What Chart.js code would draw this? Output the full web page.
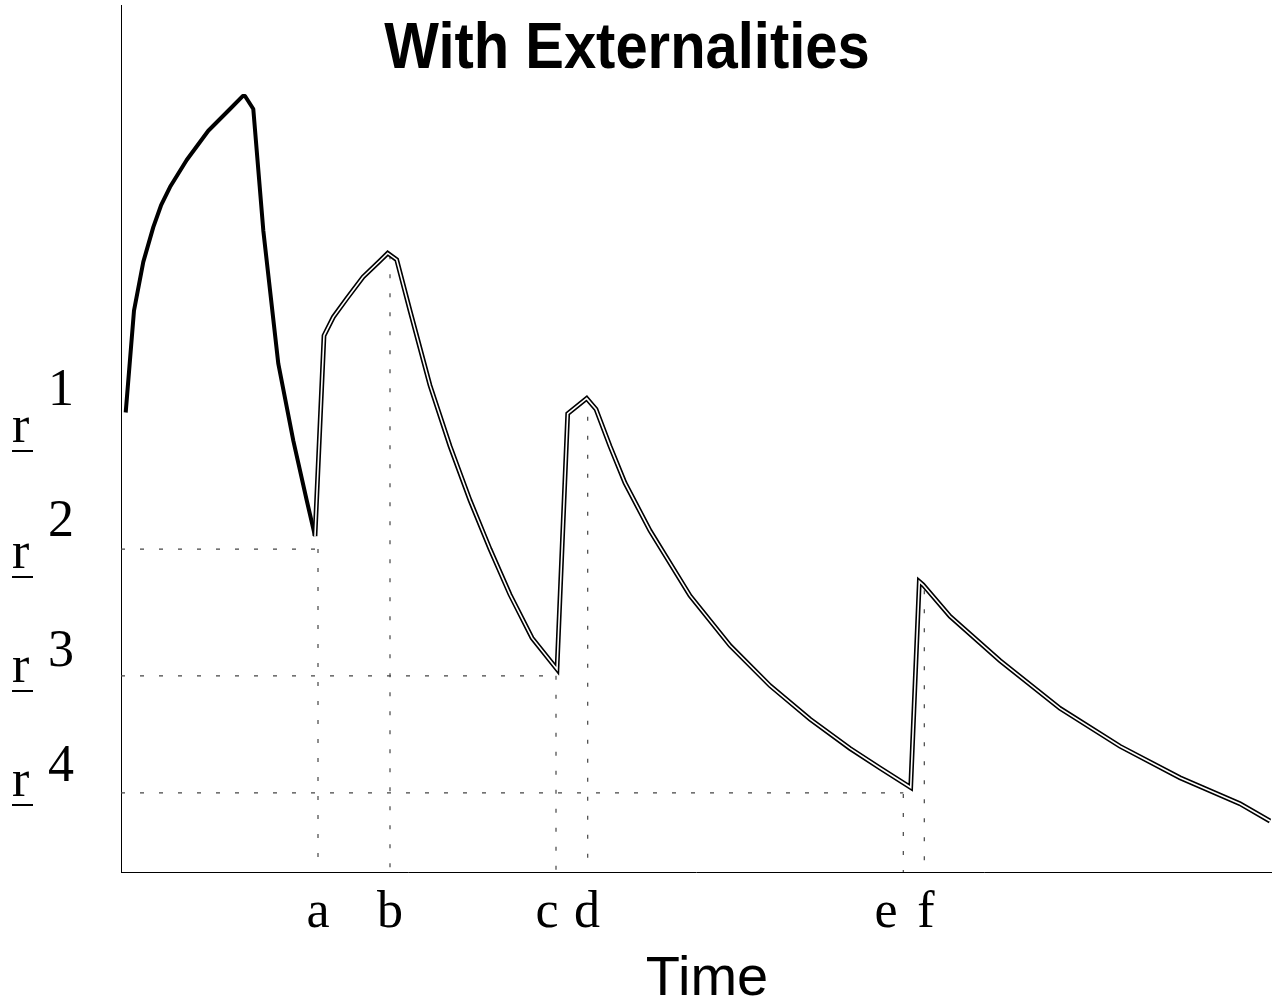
<!DOCTYPE html>
<html>
<head>
<meta charset="utf-8">
<script src="https://cdn.jsdelivr.net/npm/chart.js@4.4.1/dist/chart.umd.min.js"></script>
<style>
html,body{margin:0;padding:0;background:#fff;}
#wrap{width:1275px;height:1004px;}
</style>
</head>
<body>
<div id="wrap"><canvas id="c" width="1275" height="1004"></canvas></div>
<script>
// ---- text ----
const titleText = 'With Externalities';
const xAxisTitle = 'Time';
const tickLabels = ['a', 'b', 'c', 'd', 'e', 'f'];
const tickLabelValues = [197, 269, 426, 466, 765, 805];
const levelNames = ['1', '2', '3', '4'];

// ---- unregulated path (solid black) ----
const freeX = [4.7, 13, 22.3, 32.3, 40, 49, 65.7, 87.3, 109, 121.7, 124, 132.3, 142.3, 157.3, 172.3, 185.7, 194];
const freeY = [4.24, 5.18, 5.63, 5.95, 6.15, 6.32, 6.57, 6.84, 7.04, 7.16, 7.16, 7.04, 5.92, 4.69, 3.98, 3.43, 3.10];

// ---- regulated path (double line) ----
const regX = [194, 203, 212.3, 225.7, 242, 259, 266.7, 275.7, 289, 309, 329, 349, 369, 389, 411, 436,
              446.7, 465.7, 475, 489, 504, 529, 569, 609, 649, 689, 729, 759, 789.7,
              798.3, 802, 829, 879, 939, 999, 1059, 1119, 1149];
const regY = [3.10, 4.95, 5.12, 5.29, 5.49, 5.64, 5.71, 5.65, 5.18, 4.49, 3.93, 3.43, 2.98, 2.56, 2.16, 1.87,
              4.23, 4.37, 4.27, 3.93, 3.59, 3.15, 2.55, 2.09, 1.72, 1.41, 1.14, 0.96, 0.78,
              2.68, 2.65, 2.36, 1.95, 1.51, 1.16, 0.87, 0.63, 0.47];

// ---- dotted guide lines ----
const markerX = [197, 269, 435, 466.7, 782.3, 803.3];   // a b c d e f
const markerTop = [2.98, 5.69, 1.81, 4.2, 0.72, 2.6];
const levelY = [2.98, 1.81, 0.73];                    // r2 r3 r4
const levelEndX = [197, 435, 782.3];

const pts = (xs, ys) => xs.map((x, i) => ({x: x, y: ys[i]}));

const guideSets = [];
markerX.forEach((x, i) => {
  guideSets.push({data: [{x: x, y: markerTop[i]}, {x: x, y: 0}]});
});
levelY.forEach((y, i) => {
  guideSets.push({data: [{x: 0, y: y}, {x: levelEndX[i], y: y}]});
});
guideSets.forEach(d => Object.assign(d, {
  borderColor: '#444', borderWidth: 1.2, borderDash: [4, 15], pointRadius: 0,
  showLine: true, fill: false, order: 10
}));

const datasets = [
  {data: pts(regX, regY), borderColor: '#ffffff', borderWidth: 1.6, pointRadius: 0, showLine: true, order: 0, borderJoinStyle: 'miter'},
  {data: pts(regX, regY), borderColor: '#000000', borderWidth: 4.8, pointRadius: 0, showLine: true, order: 1, borderJoinStyle: 'miter'},
  {data: pts(freeX, freeY), borderColor: '#000000', borderWidth: 4, pointRadius: 0, showLine: true, order: 2, borderJoinStyle: 'round'},
  ...guideSets
];

const textPlugin = {
  id: 'textPlugin',
  afterDraw(chart) {
    const ctx = chart.ctx;
    ctx.save();
    ctx.fillStyle = '#000';
    // title
    ctx.save();
    ctx.font = 'bold 64px "Liberation Sans", Arial, sans-serif';
    ctx.textAlign = 'center';
    ctx.textBaseline = 'alphabetic';
    ctx.translate(627, 68);
    ctx.scale(0.905, 1);
    ctx.fillText(titleText, 0, 0);
    ctx.restore();
    // axis title
    ctx.font = '56px "Liberation Sans", Arial, sans-serif';
    ctx.textAlign = 'center';
    ctx.textBaseline = 'alphabetic';
    ctx.fillText(xAxisTitle, 707, 995);
    // level labels r with underline and superscript
    const rBase = [442, 568, 682, 796];
    const supBase = [405, 536, 666, 781];
    ctx.font = '52px "Liberation Serif", "Times New Roman", serif';
    ctx.textAlign = 'left';
    levelNames.forEach((n, i) => {
      ctx.fillText('r', 12, rBase[i]);
      ctx.fillRect(12, rBase[i] + 8, 21, 2);
      ctx.fillText(n, 48, supBase[i]);
    });
    ctx.restore();
  }
};

new Chart(document.getElementById('c'), {
  type: 'scatter',
  data: {datasets: datasets},
  options: {
    responsive: false,
    animation: false,
    devicePixelRatio: 1,
    layout: {padding: {left: 121, right: 4, top: 5, bottom: 50}},
    plugins: {legend: {display: false}, tooltip: {enabled: false}, title: {display: false}},
    elements: {line: {tension: 0}},
    scales: {
      x: {
        type: 'linear', min: 0, max: 1150,
        grid: {display: false, drawTicks: false},
        border: {display: true, color: '#000', width: 1},
        afterBuildTicks: (scale) => { scale.ticks = tickLabelValues.map(v => ({value: v})); },
        ticks: {
          autoSkip: false, maxRotation: 0, padding: 15, color: '#000',
          font: {family: '"Liberation Serif", "Times New Roman", serif', size: 52, lineHeight: 1},
          callback: (v, i) => tickLabels[i]
        }
      },
      y: {
        type: 'linear', min: 0, max: 8,
        grid: {display: false, drawTicks: false},
        border: {display: true, color: '#000', width: 1},
        ticks: {display: false}
      }
    }
  },
  plugins: [textPlugin]
});
</script>
</body>
</html>
